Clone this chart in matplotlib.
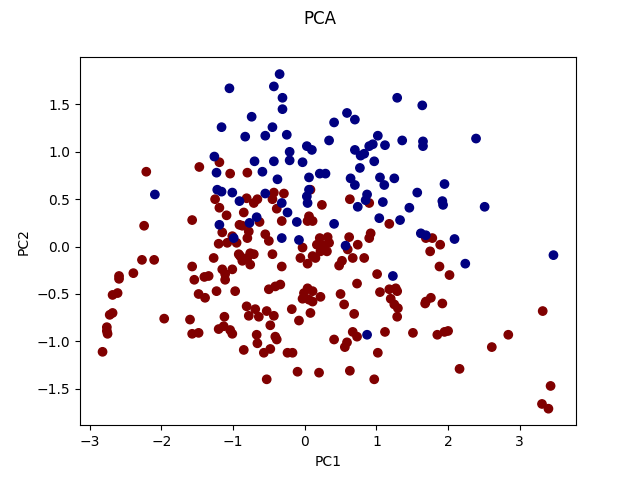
"""Scatter plot of the first two principal components, coloured by class."""

import numpy as np
from matplotlib import pyplot as plt

# class 1 points (drawn dark red by the jet colormap)
red_pc1 = [-0.80, -0.43, -0.45, -0.29, -0.81, -0.71, -0.66, 0.08, 0.24, 0.63,
           0.90, -0.85, -0.39, 0.06, 0.04, 0.11, -0.32, -0.63, 1.18, -0.87,
           -0.78, -0.80, -0.55, -0.50, 0.92, 0.90, 0.62, 0.21, 0.32, 0.17,
           0.27, 0.34, 0.31, 0.22, -0.03, 0.74, 0.60, -0.76, -0.71, -0.45,
           -0.06, 0.11, 0.15, 0.67, 0.83, -0.90, -0.80, -0.76, -0.87, -0.32,
           0.04, 0.48, 0.52, 1.01, 0.73, -0.34, -0.41, -0.50, 0.04, 0.11,
           -0.01, -0.03, 0.06, 0.11, 0.22, 0.50, 0.55, 1.05, 1.18, 1.27,
           1.29, 1.20, 1.25, 1.30, 1.29, -0.81, -0.78, -0.69, -0.64, -0.53,
           -0.43, -0.48, -0.18, -0.08, 0.08, 0.69, 0.67, 0.73, 0.59, 0.56,
           0.41, 1.12, 1.02, -0.67, -0.66, -0.85, -0.57, -0.48, -0.41, -0.39,
           -0.24, -0.17, -0.53, -0.10, 0.20, 0.63, 0.97, -1.19, -2.21, -1.47,
           -1.04, -1.25, -1.19, -1.09, -1.57, -2.24, -0.91, -1.15, -1.01, -1.20,
           -1.08, -0.95, -2.27, -2.10, -1.27, -0.92, -2.59, -2.59, -2.39, -2.68,
           -2.61, -2.72, -2.68, -2.76, -2.75, -2.76, -2.82, -1.96, -1.57, -1.54,
           -1.40, -1.34, -1.15, -1.11, -1.11, -1.01, -1.23, -0.97, -1.48, -1.39,
           -1.60, -1.57, -1.48, -1.20, -1.12, -1.13, -1.04, -1.01, 1.88, 2.02,
           1.69, 1.76, 1.68, 1.92, 3.32, 1.51, 1.85, 1.95, 2.00, 2.84,
           2.61, 2.16, 3.43, 3.31, 3.40, 1.78, 1.69, 1.89, 1.75]
red_pc2 = [0.78, 0.57, 0.50, 0.56, 0.51, 0.46, 0.50, 0.60, 0.44, 0.50,
           0.46, 0.36, 0.40, 0.32, 0.27, 0.27, 0.27, 0.26, 0.24, 0.22,
           0.16, 0.09, 0.13, 0.06, 0.14, 0.09, 0.10, 0.09, 0.10, 0.02,
           0.01, 0.04, -0.05, -0.05, -0.01, 0.02, -0.03, -0.07, -0.08, -0.08,
           -0.12, -0.10, -0.12, -0.12, -0.12, -0.10, -0.12, -0.19, -0.15, -0.21,
           -0.18, -0.20, -0.15, -0.29, -0.39, -0.40, -0.42, -0.45, -0.44, -0.47,
           -0.49, -0.55, -0.56, -0.58, -0.53, -0.50, -0.61, -0.48, -0.45, -0.44,
           -0.47, -0.55, -0.61, -0.65, -0.74, -0.63, -0.73, -0.66, -0.74, -0.68,
           -0.73, -0.83, -0.66, -0.78, -0.70, -0.71, -0.90, -0.95, -1.01, -1.06,
           -0.98, -0.90, -1.12, -0.93, -1.02, -1.09, -1.12, -1.08, -0.95, -0.98,
           -1.12, -1.12, -1.40, -1.32, -1.33, -1.31, -1.40, 0.89, 0.79, 0.84,
           0.77, 0.50, 0.41, 0.33, 0.28, 0.22, 0.23, 0.15, 0.11, 0.03,
           0.04, 0.04, -0.14, -0.14, -0.12, -0.08, -0.31, -0.34, -0.28, -0.51,
           -0.49, -0.72, -0.70, -0.89, -0.92, -0.85, -1.11, -0.76, -0.21, -0.35,
           -0.32, -0.31, -0.24, -0.29, -0.35, -0.24, -0.47, -0.47, -0.50, -0.54,
           -0.77, -0.92, -0.91, -0.87, -0.74, -0.84, -0.88, -0.92, -0.21, -0.30,
           -0.58, -0.54, -0.60, -0.60, -0.68, -0.91, -0.93, -0.90, -0.89, -0.93,
           -1.06, -1.29, -1.47, -1.66, -1.71, 0.09, 0.09, 0.02, -0.05]

# class 0 points (drawn navy by the jet colormap)
blue_pc1 = [-0.35, -0.43, -1.05, -0.31, -0.31, -0.74, -0.45, -0.55, -0.83, -0.25,
            -0.21, 0.03, 0.10, 0.34, 0.41, 0.59, 0.70, 1.29, 1.64, 2.39,
            1.65, 1.65, 1.36, 1.02, 1.12, 0.95, 0.90, 0.70, 0.78, 0.83,
            0.77, 0.97, -1.16, -1.26, -0.70, -0.43, -0.21, -0.03, -0.59, -0.38,
            0.06, 0.21, 0.29, 0.64, 0.70, 1.05, 1.11, 1.25, 1.95, 1.57,
            1.46, 1.92, 1.93, 2.51, -0.55, 0.06, 0.03, 0.04, -0.32, -0.24,
            0.87, 0.85, 0.74, 1.09, -0.67, -0.77, -0.11, 0.41, 1.04, 1.33,
            -0.32, -0.08, 0.57, -0.91, -1.23, -1.22, -1.16, -1.01, -2.09, -1.19,
            -0.99, 1.62, 1.69, 2.09, 3.47, 1.23, 0.87, 2.24]
blue_pc2 = [1.82, 1.69, 1.67, 1.57, 1.45, 1.37, 1.26, 1.17, 1.16, 1.18,
            1.00, 1.06, 1.02, 1.12, 1.31, 1.41, 1.34, 1.57, 1.49, 1.14,
            1.11, 1.06, 1.12, 1.17, 1.07, 1.08, 1.06, 1.02, 0.96, 0.98,
            0.83, 0.90, 1.26, 0.95, 0.90, 0.90, 0.91, 0.89, 0.79, 0.71,
            0.73, 0.77, 0.77, 0.72, 0.65, 0.73, 0.65, 0.72, 0.66, 0.57,
            0.41, 0.48, 0.44, 0.42, 0.56, 0.60, 0.53, 0.46, 0.46, 0.36,
            0.55, 0.49, 0.42, 0.47, 0.31, 0.25, 0.26, 0.24, 0.30, 0.28,
            0.09, 0.07, 0.01, 0.48, 0.78, 0.60, 0.58, 0.57, 0.55, 0.23,
            0.09, 0.14, 0.12, 0.08, -0.09, -0.31, -0.93, -0.18]

# red first so the blue ones sit on top where they overlap
pc1 = np.array(red_pc1 + blue_pc1)
pc2 = np.array(red_pc2 + blue_pc2)
labels = np.array([1] * len(red_pc1) + [0] * len(blue_pc1))

fig = plt.figure(figsize=(6.4, 4.78), dpi=100)
plt.scatter(pc1, pc2, c=labels, cmap='jet')
plt.xlabel('PC1')
plt.ylabel('PC2')
fig.suptitle('PCA')
plt.savefig('out.png')
